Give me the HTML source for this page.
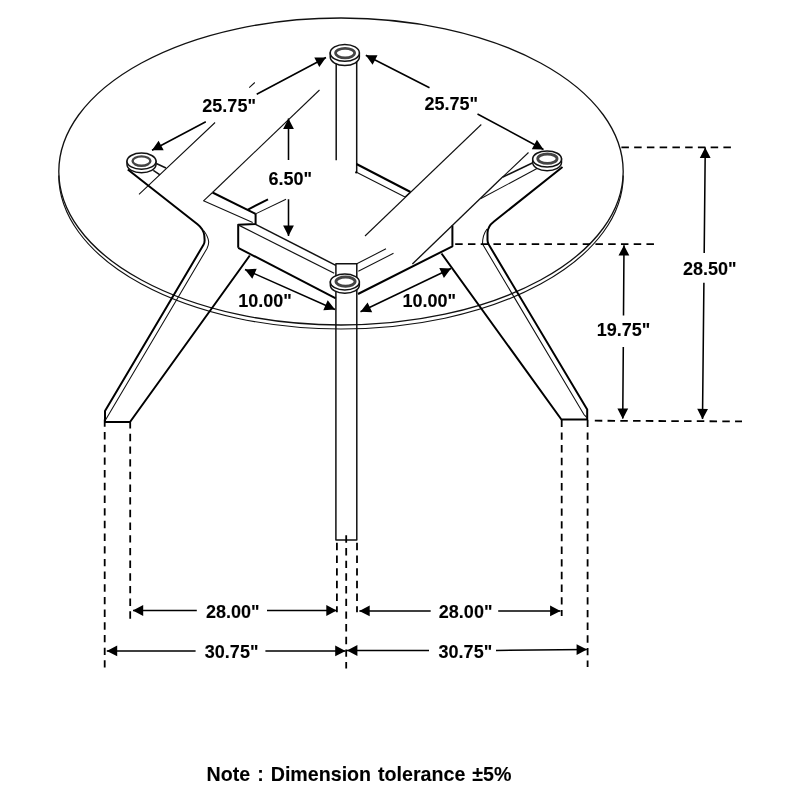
<!DOCTYPE html>
<html>
<head>
<meta charset="utf-8">
<title>Table dimensions</title>
<style>
html,body{margin:0;padding:0;background:#fff;}
body{width:800px;height:800px;overflow:hidden;font-family:"Liberation Sans",sans-serif;}
svg{display:block;will-change:transform;}
.k{stroke:#111;fill:none;stroke-linecap:butt;stroke-linejoin:round;}
.t2{stroke-width:2;stroke:#000;}
.t15{stroke-width:1.5;}
.t1{stroke-width:1.05;}
.d{stroke:#000;stroke-width:1.8;fill:none;}
.dh{stroke-dasharray:7.5 5.25;}
.dv{stroke-dasharray:7.4 5.28;}
.a{stroke:#000;stroke-width:1.55;fill:none;}
.h{fill:#000;stroke:none;}
text{font-family:"Liberation Sans",sans-serif;font-weight:bold;fill:#000;stroke:#000;stroke-width:0.1px;}
.lbl{font-size:18px;}
</style>
</head>
<body>
<svg width="800" height="800" viewBox="0 0 800 800">

<!-- GLASS TOP -->
<g id="glass">
<ellipse class="k" cx="341" cy="171.5" rx="282.2" ry="153.5" style="stroke-width:1.3"/>
<path class="k" d="M58.8,175.5 A282.2,153.5 0 0 0 623.2,175.5" style="stroke-width:1.15"/>
</g>

<!-- BACK LEG -->
<g id="backleg">
<path class="k t15" d="M336.2,62 V160.3 M356.7,62 V172.3"/>
</g>

<!-- RAILS -->
<g id="rails">
<!-- back-right rail -->
<path class="k t2" d="M356.5,164 L410.5,192"/>
<path class="k t1" d="M356.5,172.3 L405,197 M410.5,192 L405,197"/>
<circle cx="356.2" cy="172.4" r="1.1" fill="#000"/>
<!-- back-left rail -->
<path class="k t1" d="M255.6,213.9 L286,199.3"/>
<path class="k t2" d="M247.5,209.8 L268,199.3"/>
<!-- left-back rail -->
<path class="k t2" d="M255.6,213.9 L212.5,192.5"/>
<path class="k t1" d="M252.7,222.6 L203.5,200.8 L212.5,192.5"/>
<!-- left block + front-left rail -->
<path class="k t2" d="M238.2,247.8 V224.7 L255.6,224.1 V213.9"/>
<path class="k t1" d="M238.2,224.9 L334.2,273.3" style="stroke-width:1.2"/>
<path class="k t15" d="M255.6,224.4 L335.8,265.3"/>
<path class="k t2" d="M238.2,247.8 L335.8,298.3"/>
<!-- front-right rail -->
<path class="k t1" d="M356.8,263.8 L386,248.8 M358.3,271.3 L393.5,253.3"/>
<path class="k t2" d="M358,294 L452.4,246.3 V225.5"/>
</g>

<!-- GLASS REFLECTION DIAGONALS -->
<g id="diags">
<path class="k t1" d="M139,194.3 L215.1,122.5 M249.2,87.6 L254.8,82.5"/>
<path class="k t1" d="M212.5,192.5 L319.5,90"/>
<path class="k t1" d="M481.3,124.5 L365,236"/>
<path class="k t1" d="M528.5,152.5 L502.3,177.3"/>
<path class="k t15" d="M502.3,177.3 L412.4,264" style="stroke-width:1.35"/>
</g>

<!-- FRONT LEG -->
<g id="frontleg">
<path class="k t15" d="M335.9,540 V263.8 H356.8 V540 Z"/>
</g>

<!-- LEFT LEG -->
<g id="leftleg">
<path class="k t2" d="M127.8,169.5 L197.5,224.3 Q203.6,229.2 204.3,235.5 L204.6,240 Q204.7,242.8 203.5,244.8 L105,411 V422 H130 L249.8,255.5"/>
<path class="k t1" d="M203.6,230.5 Q208.3,236.5 208.7,242 Q208.7,245 207,248.5 L105.5,420"/>
<path class="k t15" d="M156.3,163.5 L166,168 M153.3,170.3 L160,174.8"/>
</g>

<!-- RIGHT LEG -->
<g id="rightleg">
<path class="k t2" d="M562.5,166.95 L494,221.5 Q487.5,226.5 487.5,233 V240 Q487.5,243 489,245 L587.2,409.5 V419.5 H561.4 L441.5,253.5"/>
<path class="k t1" d="M487,229 Q482.5,235 482.5,244 L583.8,414.3 L586.9,417.6"/>
<path class="k t15" d="M532.3,163 L502.3,177.3"/>
<path class="k t1" d="M537,168.5 L480.5,198.8"/>
</g>

<!-- FOOT PADS -->
<g transform="translate(344.80,52.90)"><path d="M-14.55,0 V4.20 A14.55,8.40 0 0 0 14.55,4.20 V0 Z" fill="#fff" stroke="#111" stroke-width="1.5"/><ellipse cx="0" cy="0" rx="14.55" ry="8.40" fill="#fff" stroke="#111" stroke-width="1.5"/><ellipse cx="0.30" cy="0.20" rx="9.55" ry="4.75" fill="#fff" stroke="#444" stroke-width="2.70"/></g>
<g transform="translate(141.50,161.20)"><path d="M-14.50,0 V3.40 A14.50,8.10 0 0 0 14.50,3.40 V0 Z" fill="#fff" stroke="#111" stroke-width="1.5"/><ellipse cx="0" cy="0" rx="14.50" ry="8.10" fill="#fff" stroke="#111" stroke-width="1.5"/><ellipse cx="0.00" cy="-0.10" rx="8.90" ry="4.70" fill="#fff" stroke="#444" stroke-width="2.40"/></g>
<g transform="translate(547.10,159.00)"><path d="M-14.40,0 V3.60 A14.40,8.10 0 0 0 14.40,3.60 V0 Z" fill="#fff" stroke="#111" stroke-width="1.5"/><ellipse cx="0" cy="0" rx="14.40" ry="8.10" fill="#fff" stroke="#111" stroke-width="1.5"/><ellipse cx="0.30" cy="-0.30" rx="9.65" ry="4.70" fill="#fff" stroke="#444" stroke-width="2.80"/></g>
<g transform="translate(344.85,282.00)"><path d="M-14.50,0 V3.30 A14.50,7.90 0 0 0 14.50,3.30 V0 Z" fill="#fff" stroke="#111" stroke-width="1.5"/><ellipse cx="0" cy="0" rx="14.50" ry="7.90" fill="#fff" stroke="#111" stroke-width="1.5"/><ellipse cx="0.70" cy="-0.40" rx="9.55" ry="4.60" fill="#fff" stroke="#444" stroke-width="2.90"/></g>

<!-- DASHED EXTENSION LINES -->
<g id="dashes">
<path class="d dh" d="M621.4,147.3 H731.6"/>
<path class="d dh" d="M455.2,244.2 H654"/>
<path class="d dh" d="M594.8,420.7 L742,421.4"/>
<path class="d dv" d="M104.7,419.4 V667.4"/>
<path class="d dv" d="M130.2,421.1 V618.9"/>
<path class="d dv" d="M336.9,542.8 V612.3"/>
<path class="d dv" d="M346.2,535.3 V668.5"/>
<path class="d dv" d="M357,542.8 V612.3"/>
<path class="d dv" d="M561.7,419.7 V616"/>
<path class="d dv" d="M587.6,419.7 V667"/>
</g>

<!-- DIMENSION ARROWS -->
<g id="arrows">
<path class="a" d="M152,150.3 L205.8,121.7 M256.7,94.2 L326,57.5"/>
<path class="a" d="M365.8,55.3 L429.5,87.8 M477.5,114 L543.5,149.5"/>
<path class="a" d="M288.5,118.5 V160 M288.5,199.3 V236"/>
<path class="a" d="M245,269.5 L335,309.5"/>
<path class="a" d="M360.5,311.8 L451,268.5"/>
<path class="a" d="M624,245.2 L623.5,315.5 M623.3,347 L622.75,418.6"/>
<path class="a" d="M705.25,147.6 L704.2,253 M703.9,282.8 L702.5,418.9"/>
<path class="a" d="M133,610.5 H196.8 M267,610.5 H336.7"/>
<path class="a" d="M359.4,610.9 H430.7 M498.2,610.9 H560.5"/>
<path class="a" d="M106.8,650.9 H195.6 M265.4,650.9 H345.6"/>
<path class="a" d="M347,650.5 H429 M496,650.4 L586.8,649.6"/>
<path class="h" d="M152.0,150.3 L158.6,140.7 L163.7,150.2 Z M326.0,57.5 L319.3,67.1 L314.3,57.6 Z M365.8,55.3 L377.5,55.2 L372.6,64.8 Z M543.5,149.5 L531.8,149.3 L536.9,139.8 Z M288.5,118.5 L293.9,128.9 L283.1,128.9 Z M288.5,236.0 L283.1,225.6 L293.9,225.6 Z M245.0,269.5 L256.7,268.8 L252.3,278.7 Z M335.0,309.5 L323.3,310.2 L327.7,300.3 Z M360.5,311.8 L367.6,302.4 L372.2,312.2 Z M451.0,268.5 L443.9,277.9 L439.3,268.1 Z M624.0,245.2 L629.3,255.6 L618.5,255.6 Z M622.8,418.9 L617.4,408.5 L628.2,408.5 Z M705.2,147.6 L710.6,158.0 L699.8,158.0 Z M702.5,419.2 L697.2,408.7 L708.0,408.9 Z M132.8,610.5 L143.2,605.1 L143.2,615.9 Z M336.7,610.5 L326.3,615.9 L326.3,605.1 Z M359.3,610.9 L369.7,605.5 L369.7,616.3 Z M560.5,610.9 L550.1,616.3 L550.1,605.5 Z M106.8,650.9 L117.2,645.5 L117.2,656.3 Z M345.6,650.9 L335.2,656.3 L335.2,645.5 Z M347.0,650.5 L357.4,645.1 L357.4,655.9 Z M587.0,649.6 L576.6,655.1 L576.6,644.3 Z"/>
</g>

<!-- TEXT -->
<g id="labels">
<text class="lbl" x="202.35" y="111.70">25.75&quot;</text>
<text class="lbl" x="424.45" y="110.10">25.75&quot;</text>
<text class="lbl" x="268.50" y="184.50">6.50&quot;</text>
<text class="lbl" x="238.20" y="306.50">10.00&quot;</text>
<text class="lbl" x="402.50" y="306.90">10.00&quot;</text>
<text class="lbl" x="596.75" y="335.90">19.75&quot;</text>
<text class="lbl" x="683.00" y="274.50">28.50&quot;</text>
<text class="lbl" x="205.90" y="617.90">28.00&quot;</text>
<text class="lbl" x="438.85" y="618.30">28.00&quot;</text>
<text class="lbl" x="204.85" y="657.90">30.75&quot;</text>
<text class="lbl" x="438.60" y="657.90">30.75&quot;</text>
<text x="206.6" y="781.2" style="font-size:19.65px;word-spacing:1.5px">Note : Dimension tolerance ±5%</text>
</g>
</svg>
</body>
</html>
